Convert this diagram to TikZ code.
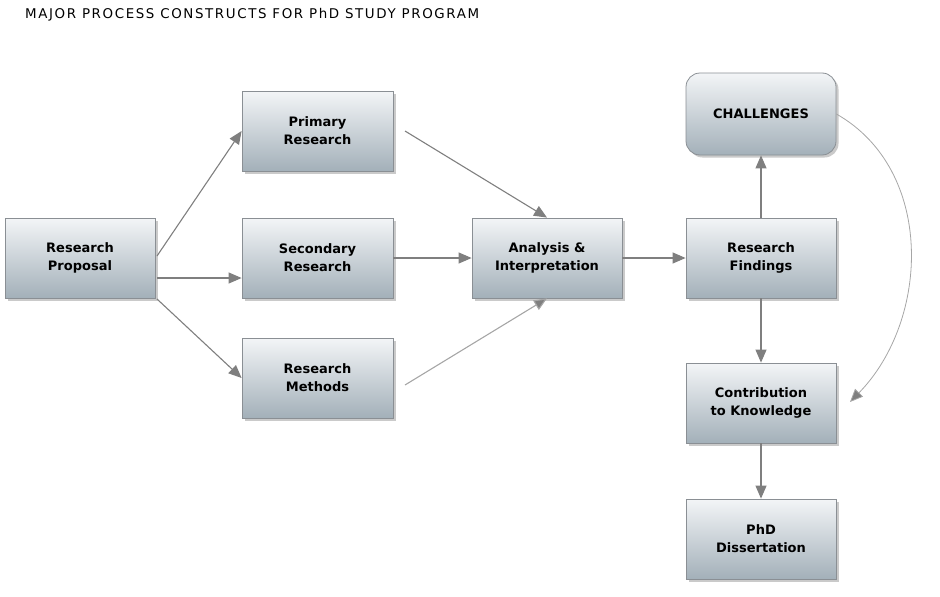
\documentclass[tikz,border=0pt]{standalone}
\usepackage{fontspec}
\setmainfont{DejaVu Sans}
\newfontfamily\titlefont[LetterSpace=12]{DejaVu Sans}
\usetikzlibrary{arrows.meta,shadows,positioning}
\definecolor{boxtop}{HTML}{F3F5F7}
\definecolor{boxbot}{HTML}{A3B0B9}
\definecolor{boxline}{HTML}{8A8F94}
\definecolor{arr}{HTML}{7F7F7F}
\tikzset{
  procbox/.style={draw=boxline, line width=0.8pt, top color=boxtop, bottom color=boxbot,
    minimum width=150pt, minimum height=80pt, align=center, inner sep=2pt,
    font=\fontsize{13}{18}\selectfont\bfseries,
    drop shadow={shadow xshift=2.5pt, shadow yshift=-2.5pt, opacity=0.35, fill=black!60}},
  roundbox/.style={procbox, rounded corners=14pt},
  conn/.style={draw=arr, line width=1.1pt, -{Triangle[length=13pt,width=11pt,fill=arr]}},
}
\begin{document}
\begin{tikzpicture}[x=1pt,y=-1pt]
\useasboundingbox (0,0) rectangle (940,597);
\node[anchor=west, inner sep=0pt, font=\titlefont\fontsize{13.4}{15}\selectfont, text=black] (title) at (25,15) {MAJOR PROCESS CONSTRUCTS FOR PhD STUDY PROGRAM};
\node[procbox] (rp) at (80,258) {Research\\Proposal};
\node[procbox, minimum width=151pt] (pr) at (317.5,131) {Primary\\Research};
\node[procbox, minimum width=151pt] (sr) at (317.5,258) {Secondary\\Research};
\node[procbox, minimum width=151pt] (rm) at (317.5,378) {Research\\Methods};
\node[procbox] (an) at (547,258) {Analysis \&\\Interpretation};
\node[procbox] (rf) at (761,258) {Research\\Findings};
\node[roundbox, minimum height=82pt] (ch) at (761,114) {CHALLENGES};
\node[procbox] (ck) at (761,403) {Contribution\\to Knowledge};
\node[procbox] (pd) at (761,539) {PhD\\Dissertation};
\coordinate (rpa) at (157,256);
\coordinate (rpb) at (157,278);
\coordinate (rpc) at (157,299);
\draw[conn] (rpa) -- (pr.west |- 0,131);
\draw[conn] (rpb) -- (sr.west |- 0,278);
\draw[conn] (rpc) -- (rm.west |- 0,378);
\coordinate (pra) at (405,131);
\coordinate (rma) at (405,385);
\draw[conn] (pra) -- (an.north);
\draw[conn, draw=black!35] (rma) -- (an.south);
\draw[conn] (sr.east) -- (an.west);
\draw[conn] (an.east) -- (rf.west);
\draw[conn] (rf.north) -- (ch.south);
\draw[conn] (rf.south) -- (ck.north);
\draw[conn] (ck.south) -- (pd.north);
\coordinate (cke) at (850,402);
\draw[draw=black!35, line width=0.8pt, -{Triangle[length=13pt,width=11pt,fill=arr]}] (ch.east) .. controls (935,170) and (930,320) .. (cke);
\end{tikzpicture}
\end{document}
